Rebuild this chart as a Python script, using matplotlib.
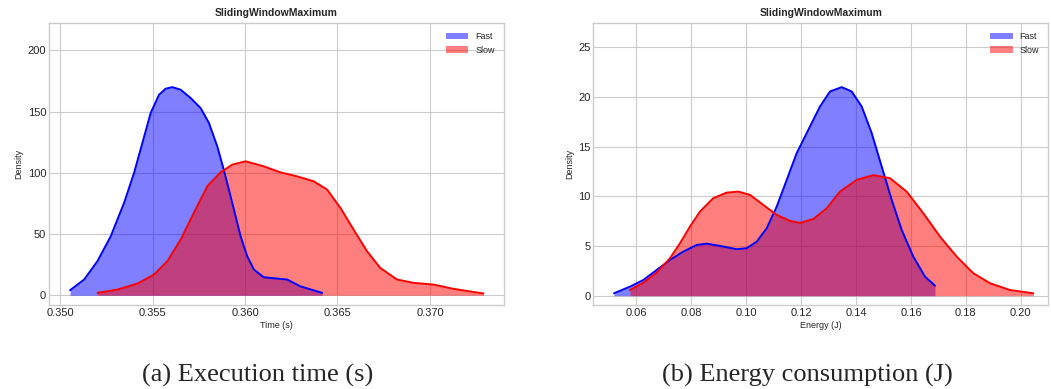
import matplotlib.pyplot as plt

# values (density curves)
time_fast_x = [0.35054, 0.35130, 0.35202, 0.35274, 0.35346, 0.35400, 0.35445, 0.35490, 0.35535,
               0.35571, 0.35607, 0.35652, 0.35706, 0.35760, 0.35805, 0.35850, 0.35885, 0.35931,
               0.35976, 0.36012, 0.36048, 0.36101, 0.36174, 0.36228, 0.36299, 0.36417]
time_fast_y = [4.1, 12.8, 27.8, 48.2, 75.4, 99.9, 124.4, 148.9, 163.8,
               168.7, 170.0, 167.9, 161.1, 152.9, 140.7, 121.6, 102.6, 75.4,
               48.2, 31.8, 21.0, 14.7, 13.6, 12.8, 7.3, 1.9]
time_slow_x = [0.35202, 0.35310, 0.35418, 0.35508, 0.35580, 0.35652, 0.35723, 0.35796, 0.35868,
               0.35931, 0.36003, 0.36101, 0.36191, 0.36282, 0.36371, 0.36444, 0.36516, 0.36587,
               0.36660, 0.36731, 0.36822, 0.36911, 0.37019, 0.37127, 0.37289]
time_slow_y = [1.9, 4.6, 9.5, 16.9, 27.8, 45.4, 67.2, 89.0, 100.4,
               106.7, 109.4, 105.3, 100.4, 97.1, 93.1, 86.3, 71.3, 53.6,
               35.9, 22.3, 12.8, 10.1, 8.7, 5.2, 1.4]

energy_fast_x = [0.05180, 0.05763, 0.06248, 0.06736, 0.07220, 0.07705, 0.08193, 0.08557, 0.09042,
                 0.09650, 0.10015, 0.10379, 0.10743, 0.11108, 0.11472, 0.11836, 0.12321, 0.12685,
                 0.13049, 0.13475, 0.13840, 0.14204, 0.14568, 0.14933, 0.15297, 0.15661, 0.16084,
                 0.16510, 0.16874]
energy_fast_y = [0.24, 0.91, 1.58, 2.59, 3.60, 4.44, 5.11, 5.24, 5.01,
                 4.68, 4.78, 5.44, 6.79, 8.97, 11.66, 14.35, 17.04, 19.05,
                 20.56, 21.0, 20.56, 19.05, 16.37, 13.0, 9.65, 6.62, 3.93,
                 1.92, 1.01]
energy_slow_x = [0.05763, 0.06248, 0.06736, 0.07220, 0.07585, 0.07949, 0.08313, 0.08798, 0.09286,
                 0.09709, 0.10135, 0.10619, 0.11108, 0.11592, 0.11956, 0.12441, 0.12929, 0.13413,
                 0.14022, 0.14627, 0.15235, 0.15843, 0.16448, 0.17057, 0.17665, 0.18270, 0.18878,
                 0.19607, 0.20455]
energy_slow_y = [0.57, 1.31, 2.32, 3.77, 5.28, 6.96, 8.47, 9.82, 10.38,
                 10.48, 10.15, 9.14, 8.13, 7.53, 7.33, 7.72, 8.8, 10.48,
                 11.66, 12.14, 11.83, 10.48, 8.3, 5.95, 3.93, 2.26, 1.25,
                 0.57, 0.24]

plt.style.use('seaborn-v0_8-whitegrid')
plt.rcParams['font.family'] = ['Liberation Sans', 'DejaVu Sans']

fig = plt.figure(figsize=(10.51, 3.89), dpi=100)
ax1 = fig.add_axes([0.0466, 0.2159, 0.4329, 0.725])
ax2 = fig.add_axes([0.5645, 0.2159, 0.4329, 0.725])


def draw(ax, fx, fy, sx, sy, xlabel, xlim, ylim, xticks, yticks, xfmt):
    ax.fill_between(fx, fy, color='blue', alpha=0.5, linewidth=0, label='Fast')
    ax.plot(fx, fy, color='blue', lw=1.4, solid_joinstyle='round')
    ax.fill_between(sx, sy, color='red', alpha=0.5, linewidth=0, label='Slow')
    ax.plot(sx, sy, color='red', lw=1.4, solid_joinstyle='round')
    ax.set_xlim(xlim)
    ax.set_ylim(ylim)
    ax.set_xticks(xticks)
    ax.set_xticklabels([xfmt % t for t in xticks])
    ax.set_yticks(yticks)
    ax.tick_params(labelsize=8, colors='#262626', pad=2)
    ax.set_xlabel(xlabel, fontsize=6.5, labelpad=2)
    ax.set_ylabel('Density', fontsize=6.5, labelpad=3)
    ax.set_title('SlidingWindowMaximum', fontsize=7.5, fontweight='bold', pad=5)
    ax.legend(loc='upper right', fontsize=6.5, handlelength=2.5, borderaxespad=0.6)
    for s in ax.spines.values():
        s.set_visible(True)
        s.set_color('#cccccc')


draw(ax1, time_fast_x, time_fast_y, time_slow_x, time_slow_y, 'Time (s)',
     (0.3494, 0.3740), (-8.0, 222.4), [0.350, 0.355, 0.360, 0.365, 0.370],
     [0, 50, 100, 150, 200], '%.3f')
draw(ax2, energy_fast_x, energy_fast_y, energy_slow_x, energy_slow_y, 'Energy (J)',
     (0.04426, 0.2100), (-0.94, 27.46), [0.06, 0.08, 0.10, 0.12, 0.14, 0.16, 0.18, 0.20],
     [0, 5, 10, 15, 20, 25], '%.2f')

fig.text(0.245, 0.018, '(a) Execution time (s)', family='Liberation Serif', fontsize=19,
         ha='center', va='baseline')
fig.text(0.768, 0.018, '(b) Energy consumption (J)', family='Liberation Serif', fontsize=19,
         ha='center', va='baseline')

fig.savefig('out.png', dpi=100)
